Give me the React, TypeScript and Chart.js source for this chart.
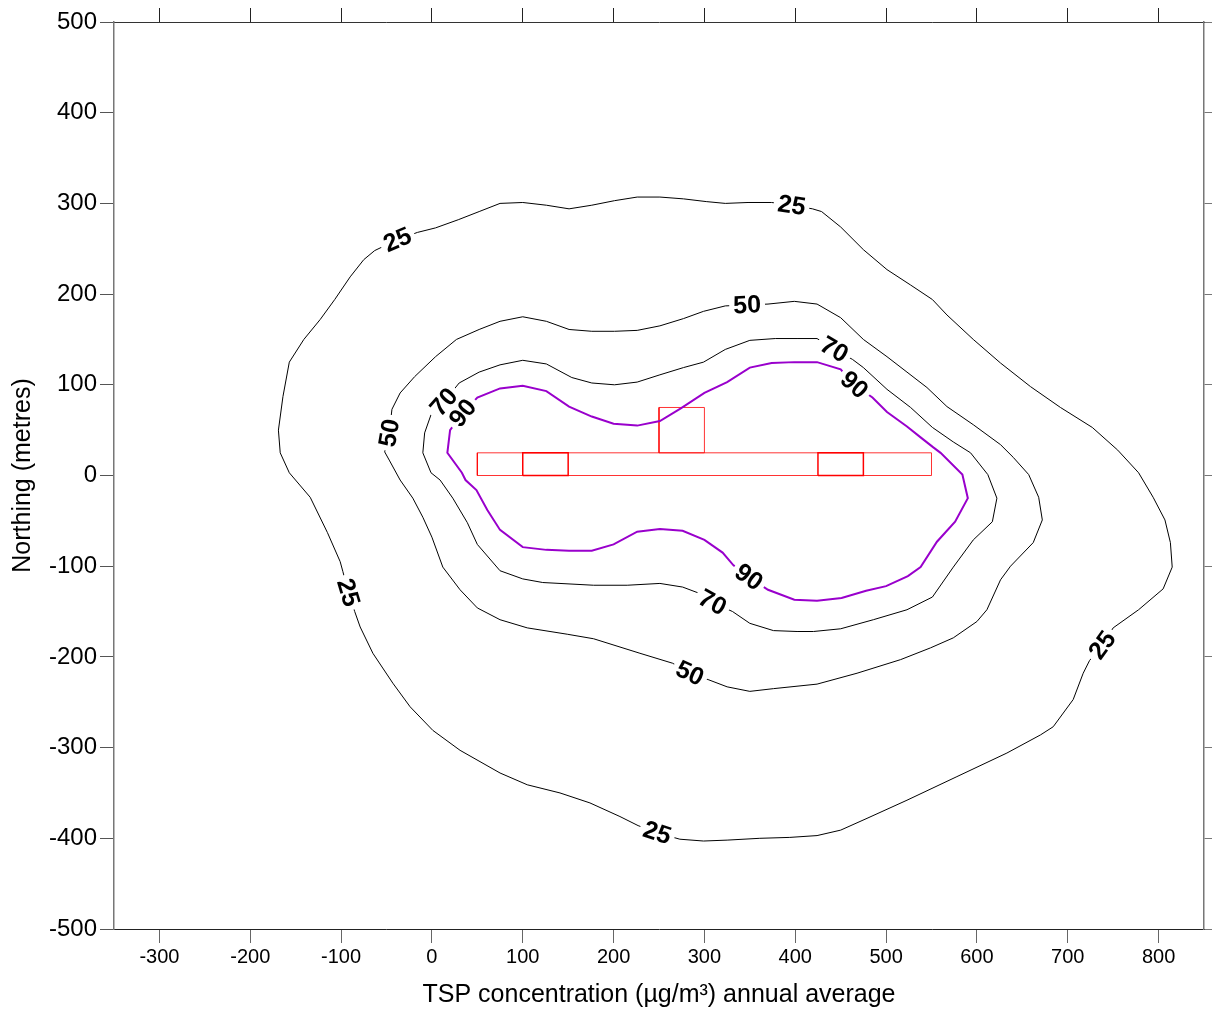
import React, { useEffect, useRef } from "react";
import { Chart, registerables } from "chart.js";

Chart.register(...registerables);

const FONT = "'Liberation Sans', Arial, sans-serif";

// Axis ticks
const xTicks = [-300, -200, -100, 0, 100, 200, 300, 400, 500, 600, 700, 800];
const yTicks = [-500, -400, -300, -200, -100, 0, 100, 200, 300, 400, 500];

// Contour levels
const levels = [25, 50, 70, 90];

// 25 contour
const c25X = [-38, -16, 4, 29, 52, 75, 100, 126, 151, 176, 201, 226, 251, 277, 302, 323, 348, 374, 396, 419, 429, 450, 475, 501, 527, 551, 567, 596, 626, 659, 692, 727, 755, 778, 794, 807, 813, 815, 805, 778, 750, 738, 724, 717, 706, 684, 670, 633, 578, 523, 479, 450, 424, 394, 361, 325, 299, 273, 248, 227, 207, 174, 141, 105, 75, 31, 1, -24, -43, -65, -79, -85, -92, -98, -101, -115, -134, -157, -167, -169, -164, -157, -141, -123, -107, -90, -75, -63];
const c25Y = [260, 268, 273, 282, 291, 300, 301, 298, 294, 298, 303, 307, 307, 305, 302, 300, 301, 301, 298, 294, 291, 274, 249, 227, 210, 194, 177, 150, 124, 98, 75, 53, 28, 3, -24, -49, -74, -101, -125, -148, -168, -187, -204, -218, -247, -277, -286, -306, -332, -358, -378, -391, -397, -399, -400, -402, -403, -401, -394, -386, -376, -361, -350, -341, -328, -303, -281, -255, -229, -196, -167, -150, -129, -106, -95, -63, -24, 3, 25, 50, 87, 125, 150, 172, 194, 219, 238, 248];

// 50 contour
const c50X = [-47, -44, -35, -19, 4, 27, 52, 75, 100, 126, 151, 176, 201, 226, 251, 277, 299, 323, 347, 370, 399, 424, 450, 475, 501, 523, 545, 567, 596, 626, 640, 657, 668, 672, 662, 637, 626, 611, 600, 574, 549, 516, 468, 424, 376, 350, 325, 304, 284, 265, 229, 178, 149, 105, 75, 50, 31, 12, 0, -10, -21, -35, -47, -52];
const c50Y = [47, 73, 91, 109, 131, 150, 161, 170, 175, 170, 161, 159, 159, 160, 165, 173, 181, 187, 188, 189, 192, 189, 174, 150, 131, 114, 97, 76, 56, 34, 20, 1, -24, -49, -74, -100, -115, -148, -161, -179, -190, -203, -218, -230, -235, -238, -233, -225, -218, -207, -196, -180, -175, -168, -159, -146, -126, -101, -68, -46, -25, -5, 17, 26];

// 70 contour
const c70X = [13, 30, 52, 75, 100, 126, 154, 176, 201, 226, 251, 277, 299, 323, 350, 378, 403, 424, 443, 463, 475, 501, 527, 551, 574, 593, 612, 622, 617, 596, 574, 551, 523, 486, 450, 420, 402, 376, 350, 331, 309, 292, 276, 251, 215, 178, 122, 100, 75, 50, 39, 23, 9, -1, -10, -8, -1];
const c70Y = [81, 102, 114, 122, 127, 123, 108, 102, 100, 103, 111, 119, 125, 139, 149, 151, 151, 151, 139, 128, 119, 95, 75, 53, 37, 25, 1, -25, -51, -71, -101, -134, -148, -159, -169, -172, -172, -171, -163, -150, -140, -129, -123, -119, -121, -121, -118, -114, -105, -76, -52, -25, -5, 3, 25, 47, 67];

// 90 contour
const c90X = [34, 50, 75, 100, 126, 151, 176, 200, 226, 251, 274, 300, 325, 350, 374, 399, 424, 450, 465, 485, 501, 523, 538, 552, 560, 584, 590, 576, 556, 538, 524, 500, 478, 451, 424, 399, 370, 349, 332, 320, 300, 276, 251, 226, 200, 176, 151, 126, 100, 75, 61, 49, 37, 33, 17, 20];
const c90Y = [69, 86, 96, 99, 93, 76, 65, 57, 55, 60, 74, 91, 103, 119, 124, 125, 125, 117, 100, 86, 70, 54, 42, 31, 25, 1, -25, -51, -73, -101, -111, -122, -127, -135, -138, -137, -126, -112, -99, -85, -71, -61, -59, -62, -76, -83, -83, -82, -79, -60, -38, -16, -5, 3, 25, 50];

// Contour labels
const labelLevel = [25, 25, 25, 25, 25, 50, 50, 50, 70, 70, 70, 90, 90, 90];
const labelX = [-38, 396, 738, 248, -92, -47, 347, 284, 13, 443, 309, 34, 465, 349];
const labelY = [260, 298, -187, -394, -129, 47, 188, -218, 81, 139, -140, 69, 100, -112];

// Source rectangles (red)
const rectX0 = [50, 100, 425, 250];
const rectX1 = [550, 150, 475, 300];
const rectY0 = [0, 0, 0, 25];
const rectY1 = [25, 25, 25, 75];

const contourXs: Record<number, number[]> = { 25: c25X, 50: c50X, 70: c70X, 90: c90X };
const contourYs: Record<number, number[]> = { 25: c25Y, 50: c50Y, 70: c70Y, 90: c90Y };

function closedPoints(xs: number[], ys: number[]) {
  const pts = xs.map((x, i) => ({ x, y: ys[i] }));
  pts.push({ x: xs[0], y: ys[0] });
  return pts;
}

const LABEL_FONT = `bold 25px ${FONT}`;

function computeLabels(chart: any) {
  const xs = chart.scales.x;
  const ys = chart.scales.y;
  const ctx = chart.ctx;
  ctx.save();
  ctx.font = LABEL_FONT;
  const out: any[] = [];
  for (let i = 0; i < labelLevel.length; i++) {
    const lv = labelLevel[i];
    const cx = contourXs[lv];
    const cy = contourYs[lv];
    const px = xs.getPixelForValue(labelX[i]);
    const py = ys.getPixelForValue(labelY[i]);
    let best = 0;
    let bd = Infinity;
    for (let k = 0; k < cx.length; k++) {
      const dx = xs.getPixelForValue(cx[k]) - px;
      const dy = ys.getPixelForValue(cy[k]) - py;
      const d = dx * dx + dy * dy;
      if (d < bd) { bd = d; best = k; }
    }
    const n = cx.length;
    const a = (best - 1 + n) % n;
    const b = (best + 1) % n;
    let dx = xs.getPixelForValue(cx[b]) - xs.getPixelForValue(cx[a]);
    let dy = ys.getPixelForValue(cy[b]) - ys.getPixelForValue(cy[a]);
    if (dx < 0) { dx = -dx; dy = -dy; }
    const ang = Math.atan2(dy, dx);
    const text = String(lv);
    const w = ctx.measureText(text).width;
    out.push({ px, py, ang, text, hw: w / 2 + 4, hh: 11 });
  }
  ctx.restore();
  return out;
}

const contourLabelPlugin = {
  id: "contourLabels",
  beforeDatasetsDraw(chart: any) {
    const ctx = chart.ctx;
    const labels = computeLabels(chart);
    chart.$contourLabels = labels;
    ctx.save();
    ctx.beginPath();
    ctx.rect(0, 0, chart.width, chart.height);
    for (const l of labels) {
      const c = Math.cos(l.ang);
      const s = Math.sin(l.ang);
      const corners = [
        [-l.hw, -l.hh],
        [l.hw, -l.hh],
        [l.hw, l.hh],
        [-l.hw, l.hh],
      ].map(([u, v]) => [l.px + u * c - v * s, l.py + u * s + v * c]);
      ctx.moveTo(corners[0][0], corners[0][1]);
      for (let k = 1; k < 4; k++) ctx.lineTo(corners[k][0], corners[k][1]);
      ctx.closePath();
    }
    ctx.clip("evenodd");
  },
  afterDatasetsDraw(chart: any) {
    const ctx = chart.ctx;
    ctx.restore();
    const labels = chart.$contourLabels || [];
    ctx.save();
    ctx.font = LABEL_FONT;
    ctx.fillStyle = "#000";
    ctx.textAlign = "center";
    ctx.textBaseline = "middle";
    for (const l of labels) {
      ctx.save();
      ctx.translate(l.px, l.py);
      ctx.rotate(l.ang);
      ctx.fillText(l.text, 0, 1);
      ctx.restore();
    }
    ctx.restore();
  },
};

export default function App() {
  const ref = useRef<HTMLCanvasElement | null>(null);

  useEffect(() => {
    if (!ref.current) return;
    const contourDatasets = levels.map((lv) => ({
      label: `${lv}`,
      data: closedPoints(contourXs[lv], contourYs[lv]),
      showLine: true,
      borderColor: lv === 90 ? "#9900cc" : "#000000",
      borderWidth: lv === 90 ? 2 : 1,
      pointRadius: 0,
      tension: 0,
      fill: false,
      xAxisID: "x",
      yAxisID: "y",
    }));
    const rectDatasets = rectX0.map((x0, i) => ({
      label: `rect${i}`,
      data: [
        { x: x0, y: rectY0[i] },
        { x: rectX1[i], y: rectY0[i] },
        { x: rectX1[i], y: rectY1[i] },
        { x: x0, y: rectY1[i] },
        { x: x0, y: rectY0[i] },
      ],
      showLine: true,
      borderColor: i === 1 || i === 2 ? "rgba(255,0,0,1)" : "rgba(255,0,0,0.8)",
      borderWidth: i === 1 || i === 2 ? 1.5 : 1,
      pointRadius: 0,
      tension: 0,
      fill: false,
      xAxisID: "x",
      yAxisID: "y",
    }));

    const chart = new Chart(ref.current, {
      type: "scatter",
      data: { datasets: [...contourDatasets, ...rectDatasets] as any },
      options: {
        responsive: false,
        devicePixelRatio: 1,
        animation: false,
        layout: { padding: 0 },
        plugins: {
          legend: { display: false },
          tooltip: { enabled: false },
        },
        scales: {
          x: {
            type: "linear",
            position: "bottom",
            min: -350,
            max: 850,
            afterBuildTicks: (s: any) => {
              s.ticks = xTicks.map((v) => ({ value: v }));
            },
            afterFit: (s: any) => {
              s.height = 81;
            },
            ticks: {
              color: "#000",
              font: { size: 20, family: FONT },
              padding: 2,
              maxRotation: 0,
              autoSkip: false,
              callback: (v: any) => String(v),
            },
            grid: {
              drawOnChartArea: false,
              drawTicks: true,
              tickLength: 14,
              tickColor: "#666",
            },
            border: { color: "#222", width: 1 },
            title: {
              display: true,
              text: "TSP concentration (µg/m³) annual average",
              color: "#000",
              font: { size: 25, family: FONT },
              padding: { top: 0, bottom: 0 },
            },
          },
          x2: {
            type: "linear",
            position: "top",
            min: -350,
            max: 850,
            afterBuildTicks: (s: any) => {
              s.ticks = xTicks.map((v) => ({ value: v }));
            },
            afterFit: (s: any) => {
              s.height = 22;
            },
            ticks: { display: false },
            grid: {
              drawOnChartArea: false,
              drawTicks: true,
              tickLength: 14,
              tickColor: "#222",
            },
            border: { color: "#333", width: 1 },
          },
          y: {
            type: "linear",
            position: "left",
            min: -500,
            max: 500,
            afterBuildTicks: (s: any) => {
              s.ticks = yTicks.map((v) => ({ value: v }));
            },
            afterFit: (s: any) => {
              s.width = 114;
            },
            ticks: {
              color: "#000",
              font: { size: 24, family: FONT },
              padding: 3,
              autoSkip: false,
              callback: (v: any) => String(v),
            },
            grid: {
              drawOnChartArea: false,
              drawTicks: true,
              tickLength: 14,
              tickColor: "#555",
            },
            border: { color: "#777", width: 1.5 },
            title: {
              display: true,
              text: "Northing (metres)",
              color: "#000",
              font: { size: 25, family: FONT },
              padding: { top: 8, bottom: 0 },
            },
          },
          y2: {
            type: "linear",
            position: "right",
            min: -500,
            max: 500,
            afterBuildTicks: (s: any) => {
              s.ticks = yTicks.map((v) => ({ value: v }));
            },
            afterFit: (s: any) => {
              s.width = 8;
            },
            ticks: { display: false },
            grid: {
              drawOnChartArea: false,
              drawTicks: true,
              tickLength: 14,
              tickColor: "#777",
            },
            border: { color: "#777", width: 1.5 },
          },
        },
      } as any,
      plugins: [contourLabelPlugin],
    });
    return () => chart.destroy();
  }, []);

  return (
    <div style={{ position: "absolute", left: 0, top: 0, width: 1212, height: 1010, background: "#fff" }}>
      <canvas ref={ref} width={1212} height={1010} style={{ display: "block" }} />
    </div>
  );
}
